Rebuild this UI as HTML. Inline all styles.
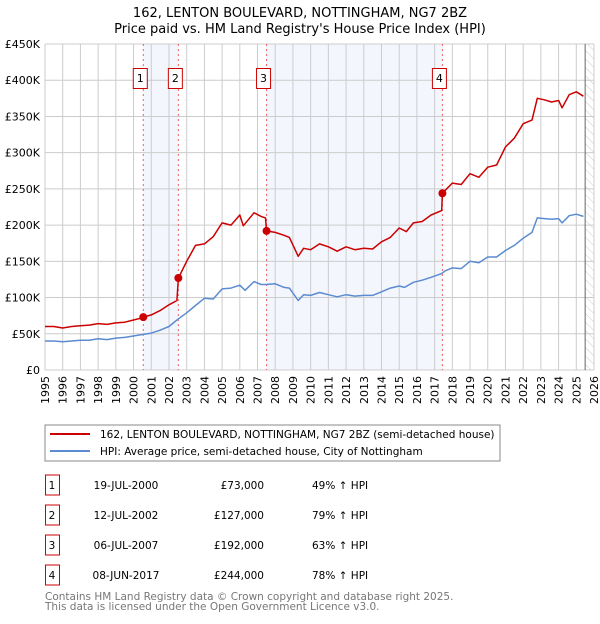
<!DOCTYPE html>
<html><head><meta charset="utf-8"><style>
body{margin:0;background:#fff;font-family:"DejaVu Sans","Liberation Sans",sans-serif}
svg text{font-family:"DejaVu Sans","Liberation Sans",sans-serif}
</style></head><body>
<svg id="chart" width="600" height="620" xmlns="http://www.w3.org/2000/svg">
<defs><pattern id="hatch" width="6" height="6" patternUnits="userSpaceOnUse" patternTransform="rotate(-45)"><line x1="0" y1="0" x2="0" y2="6" stroke="#ccc" stroke-width="1"/></pattern></defs>
<text x="300" y="17" text-anchor="middle" font-size="13">162, LENTON BOULEVARD, NOTTINGHAM, NG7 2BZ</text>
<text x="300" y="33" text-anchor="middle" font-size="13">Price paid vs. HM Land Registry's House Price Index (HPI)</text>
<g id="plot"></g>
<rect x="45" y="425" width="455" height="36" fill="#fff" stroke="#888"/>
<line x1="50" y1="434" x2="90" y2="434" stroke="#cc0000" stroke-width="2"/>
<text x="100" y="438" font-size="10.5">162, LENTON BOULEVARD, NOTTINGHAM, NG7 2BZ (semi-detached house)</text>
<line x1="50" y1="451" x2="90" y2="451" stroke="#5b8bd0" stroke-width="2"/>
<text x="100" y="455" font-size="10.5">HPI: Average price, semi-detached house, City of Nottingham</text>
<g id="table" font-size="10.5"></g>
<text x="45" y="600" font-size="10.5" fill="#777">Contains HM Land Registry data © Crown copyright and database right 2025.</text>
<text x="45" y="610" font-size="10.5" fill="#777">This data is licensed under the Open Government Licence v3.0.</text>
</svg>
<script>
const years=[1995,1996,1997,1998,1999,2000,2001,2002,2003,2004,2005,2006,2007,2008,2009,2010,2011,2012,2013,2014,2015,2016,2017,2018,2019,2020,2021,2022,2023,2024,2025,2026];
const yTicks=[0,50,100,150,200,250,300,350,400,450];
const yTickLabels=["£0","£50K","£100K","£150K","£200K","£250K","£300K","£350K","£400K","£450K"];
const hpiDates=[1995.0,1995.5,1996.0,1996.5,1997.0,1997.5,1998.0,1998.5,1999.0,1999.5,2000.0,2000.5,2001.0,2001.5,2002.0,2002.5,2003.0,2003.5,2004.0,2004.5,2005.0,2005.5,2006.0,2006.3,2006.8,2007.2,2007.5,2008.0,2008.5,2008.8,2009.3,2009.6,2010.0,2010.5,2011.0,2011.5,2012.0,2012.5,2013.0,2013.5,2014.0,2014.5,2015.0,2015.3,2015.8,2016.3,2016.8,2017.4,2017.6,2018.0,2018.5,2019.0,2019.5,2020.0,2020.5,2021.0,2021.5,2022.0,2022.5,2022.8,2023.2,2023.6,2024.0,2024.2,2024.6,2025.0,2025.4];
const hpiValues=[40,40,39,40,41,41,43,42,44,45,47,49,51,55,60,70,79,89,99,98,112,113,117,110,122,118,118,119,114,113,96,104,103,107,104,101,104,102,103,103,108,113,116,114,121,124,128,133,137,141,140,150,148,156,156,165,172,182,190,210,209,208,209,203,213,215,212];
const priceDates=[1995.0,1995.5,1996.0,1996.5,1997.0,1997.5,1998.0,1998.5,1999.0,1999.5,2000.0,2000.5,2000.55,2001.0,2001.5,2002.0,2002.45,2002.53,2003.0,2003.5,2004.0,2004.5,2005.0,2005.5,2006.0,2006.2,2006.8,2007.2,2007.45,2007.51,2008.0,2008.5,2008.8,2009.3,2009.6,2010.0,2010.5,2011.0,2011.5,2012.0,2012.5,2013.0,2013.5,2014.0,2014.5,2015.0,2015.4,2015.8,2016.3,2016.8,2017.4,2017.44,2018.0,2018.5,2019.0,2019.5,2020.0,2020.5,2021.0,2021.5,2022.0,2022.5,2022.8,2023.2,2023.6,2024.0,2024.2,2024.6,2025.0,2025.4];
const priceValues=[60,60,58,60,61,62,64,63,65,66,69,72,73,76,82,90,96,127,150,172,174,184,203,200,214,199,217,212,210,192,190,186,183,157,168,166,174,170,164,170,166,168,167,177,183,196,191,203,205,214,220,244,258,256,271,266,280,283,308,320,340,345,375,373,370,372,362,380,384,378];
const saleLabels=["1","2","3","4"];
const saleDates=[2000.55,2002.53,2007.51,2017.44];
const salePrices=[73,127,192,244];
const saleDateText=["19-JUL-2000","12-JUL-2002","06-JUL-2007","08-JUN-2017"];
const salePriceText=["£73,000","£127,000","£192,000","£244,000"];
const saleHpiText=["49% ↑ HPI","79% ↑ HPI","63% ↑ HPI","78% ↑ HPI"];

const NS="http://www.w3.org/2000/svg";
const X0=45,X1=594,Y0=370,Y1=44;
const xs=t=>X0+(t-1995)/31*(X1-X0);
const ys=v=>Y0-v/450*(Y0-Y1);
const plot=document.getElementById('plot');
function mk(tag,attrs,parent){const e=document.createElementNS(NS,tag);for(const k in attrs)e.setAttribute(k,attrs[k]);(parent||plot).appendChild(e);return e;}

let r=mk('rect',{x:X0,y:Y1,width:X1-X0,height:Y0-Y1,fill:'#fff'});


[[0,1],[2,3]].forEach((p,i)=>{
  const s=mk('rect',{x:xs(saleDates[p[0]]),y:Y1,width:xs(saleDates[p[1]])-xs(saleDates[p[0]]),height:Y0-Y1,fill:'#f3f6fd'});
  
  
});
const hx=xs(2025.5);
let h=mk('rect',{x:hx,y:Y1,width:X1-hx,height:Y0-Y1,fill:'url(#hatch)'});


years.forEach((yr,i)=>{
  const g=mk('line',{x1:xs(yr),x2:xs(yr),y1:Y1,y2:Y0,stroke:'#ccc','stroke-width':1});
  
  
  const t=mk('text',{x:0,y:0,'font-size':11,'text-anchor':'end',transform:`translate(${xs(yr)+4},${Y0+6}) rotate(-90)`});
  t.textContent=yr;
  
  
});
yTicks.forEach((v,i)=>{
  const g=mk('line',{x1:X0,x2:X1,y1:ys(v),y2:ys(v),stroke:'#ccc','stroke-width':1});
  
  
  const t=mk('text',{x:X0-5,y:ys(v)+4,'font-size':11,'text-anchor':'end'});
  t.textContent=yTickLabels[i];
  
  
});
let nl=mk('line',{x1:hx,x2:hx,y1:Y1,y2:Y0,stroke:'#666','stroke-width':1});


saleDates.forEach((d,i)=>{
  const l=mk('line',{x1:xs(d),x2:xs(d),y1:Y1,y2:Y0,stroke:'#f06060','stroke-width':1,'stroke-dasharray':'2,3'});
  
  
  const b=mk('rect',{x:xs(d)-10,y:68.5,width:14,height:20,fill:'#fff',stroke:'#cc0000'});
  
  
  const t=mk('text',{x:xs(d)-3,y:82,'font-size':11,'text-anchor':'middle'});
  t.textContent=saleLabels[i];
  
  
});
const path=(d,v)=>d.map((t,i)=>(i?'L':'M')+xs(t).toFixed(1)+','+ys(v[i]).toFixed(1)).join('');
let hp=mk('path',{d:path(hpiDates,hpiValues),fill:'none',stroke:'#5b8bd0','stroke-width':1.5,'stroke-linejoin':'round'});


let pp=mk('path',{d:path(priceDates,priceValues),fill:'none',stroke:'#cc0000','stroke-width':1.5,'stroke-linejoin':'round'});


saleDates.forEach((d,i)=>{
  const c=mk('circle',{cx:xs(d),cy:ys(salePrices[i]),r:4,fill:'#cc0000'});
  
  
});
const tb=document.getElementById('table');
saleLabels.forEach((s,i)=>{
  const y=485+i*30;
  const b=mk('rect',{x:45.5,y:y-10,width:14,height:20,fill:'#fff',stroke:'#cc0000'},tb);
  
  
  const t0=mk('text',{x:52,y:y+4,'text-anchor':'middle'},tb);t0.textContent=s;
  
  
  const t1=mk('text',{x:126,y:y+4,'text-anchor':'middle'},tb);t1.textContent=saleDateText[i];
  
  
  const t2=mk('text',{x:264,y:y+4,'text-anchor':'end'},tb);t2.textContent=salePriceText[i];
  
  
  const t3=mk('text',{x:312,y:y+4},tb);t3.textContent=saleHpiText[i];
  
  
});
</script>
</body></html>
